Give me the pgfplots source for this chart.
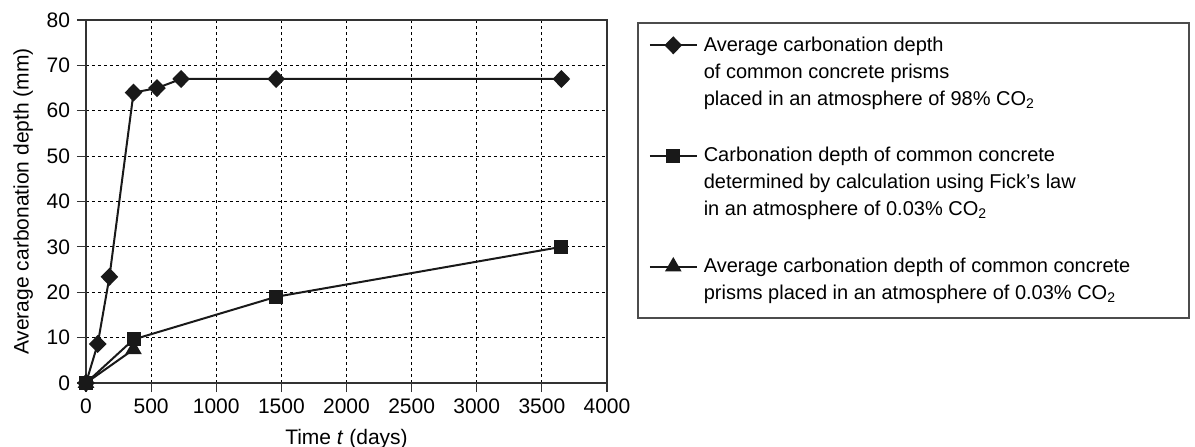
\documentclass[border=0pt]{standalone}
\usepackage{fontspec}
\setmainfont{Liberation Sans}
\usepackage{pgfplots}
\pgfplotsset{compat=1.18}

\newcommand{\legtext}[1]{\parbox[t]{235bp}{\raggedright #1}}

\begin{document}
\begin{tikzpicture}
\useasboundingbox (-43bp,-32bp) rectangle (554.5bp,191.5bp);
\begin{axis}[
  at={(0,0)}, anchor=south west,
  scale only axis,
  width=260.5bp, height=181.5bp,
  xmin=0, xmax=4000, ymin=0, ymax=80,
  xtick={0,500,...,4000}, ytick={0,10,...,80},
  font=\fontsize{10.5bp}{13bp}\selectfont,
  /pgf/number format/assume math mode=true,
  /pgf/number format/1000 sep={},
  tick pos=left, tick align=outside,
  major tick length=4.5bp,
  axis line style={draw=black!80, line width=0.8bp},
  tick style={draw=black!80, line width=0.6bp},
  grid=major,
  major grid style={draw=black, line width=0.5bp, dash pattern=on 1.5bp off 1.5bp},
  xlabel={Time \textit{t} (days)},
  ylabel={Average carbonation depth (mm)},
  xlabel style={yshift=-1bp},
  ylabel style={yshift=0bp},
  legend cell align=left,
  legend style={at={(1,1)}, anchor=north west, xshift=15bp, yshift=-1bp,
    draw=black!70, line width=0.8bp, inner xsep=5.5bp, inner ysep=5bp,
    font=\fontsize{10bp}{13.5bp}\selectfont, row sep=15bp, column sep=1bp,
    cells={anchor=base west},
    nodes={text depth=, inner xsep=2bp, inner ysep=2bp}},
  legend image code/.code={%
    \draw[yshift=3bp, mark repeat=2, mark phase=2] plot coordinates {(0bp,0bp)(11.75bp,0bp)(23.5bp,0bp)};},
]
\addplot[black!90, line width=1bp, mark=diamond*, mark size=3.8bp, mark options={xscale=1.3}]
  coordinates {(0,0) (90,8.6) (180,23.4) (365,64) (545,65) (730,67) (1460,67) (3650,67)};
\addlegendentry{\legtext{Average carbonation depth\\of common concrete prisms\\placed in an atmosphere of 98\% CO\textsubscript{2}}}
\addplot[black!90, line width=1bp, mark=square*, mark size=3bp]
  coordinates {(0,0) (365,9.6) (1460,19) (3650,30)};
\addlegendentry{\legtext{Carbonation depth of common concrete\\determined by calculation using Fick's law\\in an atmosphere of 0.03\% CO\textsubscript{2}}}
\addplot[black!90, line width=1bp, mark=triangle*, mark size=3.8bp]
  coordinates {(0,0) (365,7.4)};
\addlegendentry{\legtext{Average carbonation depth of common concrete\\prisms placed in an atmosphere of 0.03\% CO\textsubscript{2}}}
\end{axis}
\end{tikzpicture}
\end{document}
